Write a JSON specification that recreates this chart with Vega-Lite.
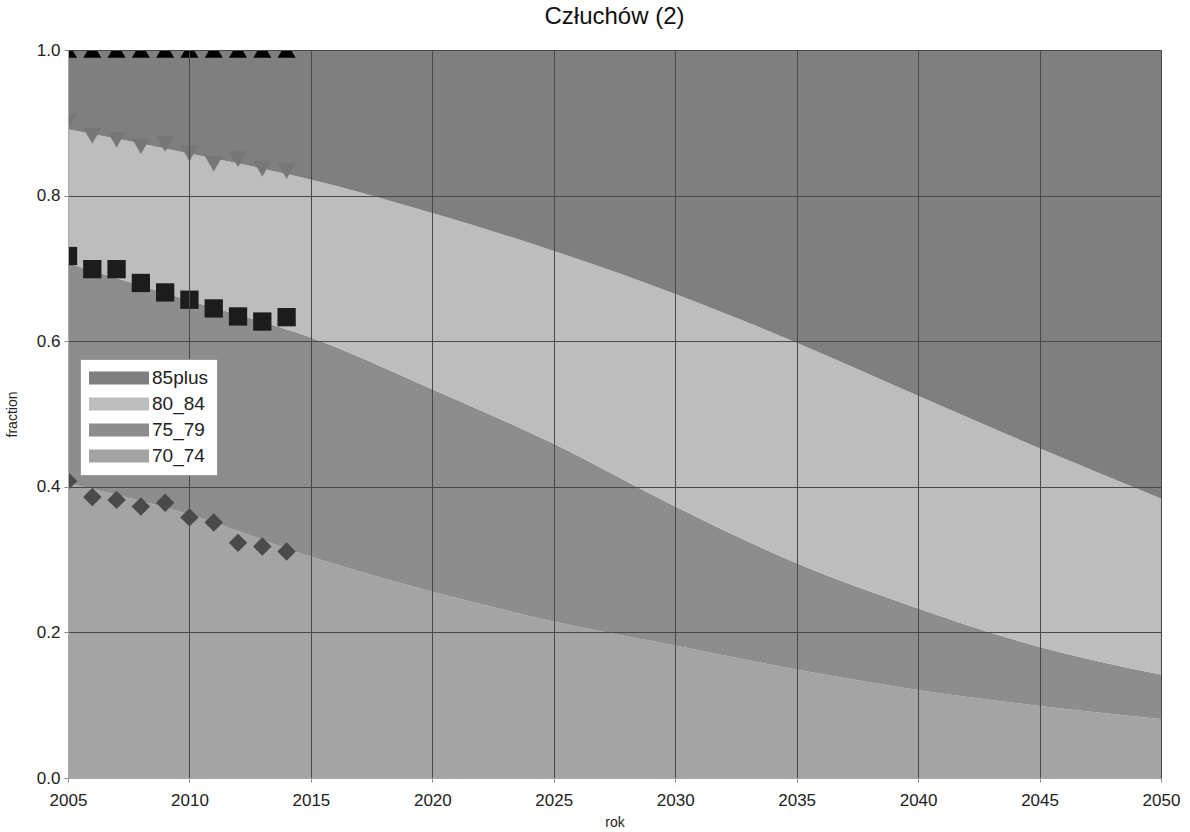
{
  "$schema": "https://vega.github.io/schema/vega-lite/v6.json",
  "width": 1093,
  "height": 728,
  "autosize": {"type": "none"},
  "padding": {"left": 68, "top": 50, "right": 29, "bottom": 54},
  "background": "white",
  "title": {"text": "Człuchów (2)", "fontSize": 24, "fontWeight": "normal", "color": "#111", "offset": 12, "anchor": "middle"},
  "config": {
    "font": "Liberation Sans",
    "view": {"stroke": null},
    "axis": {"labelFontSize": 17, "labelColor": "#222", "titleFontSize": 15, "titleFontWeight": "normal", "titleColor": "#222", "gridColor": "#484848", "gridOpacity": 1, "gridWidth": 1, "domainColor": "#aaa", "tickColor": "#888", "tickSize": 4, "labelFlush": false}
  },
  "datasets": {
    "bands": [
      {"rok": 2005, "band": "70_74", "fraction": 0.405},
      {"rok": 2005, "band": "75_79", "fraction": 0.302},
      {"rok": 2005, "band": "80_84", "fraction": 0.184},
      {"rok": 2005, "band": "85plus", "fraction": 0.109},
      {"rok": 2010, "band": "70_74", "fraction": 0.362},
      {"rok": 2010, "band": "75_79", "fraction": 0.294},
      {"rok": 2010, "band": "80_84", "fraction": 0.202},
      {"rok": 2010, "band": "85plus", "fraction": 0.142},
      {"rok": 2015, "band": "70_74", "fraction": 0.304},
      {"rok": 2015, "band": "75_79", "fraction": 0.301},
      {"rok": 2015, "band": "80_84", "fraction": 0.217},
      {"rok": 2015, "band": "85plus", "fraction": 0.178},
      {"rok": 2020, "band": "70_74", "fraction": 0.256},
      {"rok": 2020, "band": "75_79", "fraction": 0.278},
      {"rok": 2020, "band": "80_84", "fraction": 0.242},
      {"rok": 2020, "band": "85plus", "fraction": 0.224},
      {"rok": 2025, "band": "70_74", "fraction": 0.215},
      {"rok": 2025, "band": "75_79", "fraction": 0.244},
      {"rok": 2025, "band": "80_84", "fraction": 0.265},
      {"rok": 2025, "band": "85plus", "fraction": 0.276},
      {"rok": 2030, "band": "70_74", "fraction": 0.182},
      {"rok": 2030, "band": "75_79", "fraction": 0.191},
      {"rok": 2030, "band": "80_84", "fraction": 0.292},
      {"rok": 2030, "band": "85plus", "fraction": 0.335},
      {"rok": 2035, "band": "70_74", "fraction": 0.149},
      {"rok": 2035, "band": "75_79", "fraction": 0.146},
      {"rok": 2035, "band": "80_84", "fraction": 0.303},
      {"rok": 2035, "band": "85plus", "fraction": 0.402},
      {"rok": 2040, "band": "70_74", "fraction": 0.121},
      {"rok": 2040, "band": "75_79", "fraction": 0.112},
      {"rok": 2040, "band": "80_84", "fraction": 0.292},
      {"rok": 2040, "band": "85plus", "fraction": 0.475},
      {"rok": 2045, "band": "70_74", "fraction": 0.099},
      {"rok": 2045, "band": "75_79", "fraction": 0.081},
      {"rok": 2045, "band": "80_84", "fraction": 0.273},
      {"rok": 2045, "band": "85plus", "fraction": 0.547},
      {"rok": 2050, "band": "70_74", "fraction": 0.081},
      {"rok": 2050, "band": "75_79", "fraction": 0.061},
      {"rok": 2050, "band": "80_84", "fraction": 0.242},
      {"rok": 2050, "band": "85plus", "fraction": 0.616}
    ],
    "observed": [
      {"rok": 2005, "series": "70_74", "fraction": 0.408},
      {"rok": 2006, "series": "70_74", "fraction": 0.386},
      {"rok": 2007, "series": "70_74", "fraction": 0.382},
      {"rok": 2008, "series": "70_74", "fraction": 0.373},
      {"rok": 2009, "series": "70_74", "fraction": 0.378},
      {"rok": 2010, "series": "70_74", "fraction": 0.358},
      {"rok": 2011, "series": "70_74", "fraction": 0.351},
      {"rok": 2012, "series": "70_74", "fraction": 0.323},
      {"rok": 2013, "series": "70_74", "fraction": 0.318},
      {"rok": 2014, "series": "70_74", "fraction": 0.311},
      {"rok": 2005, "series": "75_79", "fraction": 0.717},
      {"rok": 2006, "series": "75_79", "fraction": 0.699},
      {"rok": 2007, "series": "75_79", "fraction": 0.699},
      {"rok": 2008, "series": "75_79", "fraction": 0.680},
      {"rok": 2009, "series": "75_79", "fraction": 0.667},
      {"rok": 2010, "series": "75_79", "fraction": 0.657},
      {"rok": 2011, "series": "75_79", "fraction": 0.645},
      {"rok": 2012, "series": "75_79", "fraction": 0.634},
      {"rok": 2013, "series": "75_79", "fraction": 0.627},
      {"rok": 2014, "series": "75_79", "fraction": 0.633},
      {"rok": 2005, "series": "80_84", "fraction": 0.902},
      {"rok": 2006, "series": "80_84", "fraction": 0.882},
      {"rok": 2007, "series": "80_84", "fraction": 0.877},
      {"rok": 2008, "series": "80_84", "fraction": 0.868},
      {"rok": 2009, "series": "80_84", "fraction": 0.871},
      {"rok": 2010, "series": "80_84", "fraction": 0.858},
      {"rok": 2011, "series": "80_84", "fraction": 0.844},
      {"rok": 2012, "series": "80_84", "fraction": 0.850},
      {"rok": 2013, "series": "80_84", "fraction": 0.837},
      {"rok": 2014, "series": "80_84", "fraction": 0.834},
      {"rok": 2005, "series": "85plus", "fraction": 1.0},
      {"rok": 2006, "series": "85plus", "fraction": 1.0},
      {"rok": 2007, "series": "85plus", "fraction": 1.0},
      {"rok": 2008, "series": "85plus", "fraction": 1.0},
      {"rok": 2009, "series": "85plus", "fraction": 1.0},
      {"rok": 2010, "series": "85plus", "fraction": 1.0},
      {"rok": 2011, "series": "85plus", "fraction": 1.0},
      {"rok": 2012, "series": "85plus", "fraction": 1.0},
      {"rok": 2013, "series": "85plus", "fraction": 1.0},
      {"rok": 2014, "series": "85plus", "fraction": 1.0}
    ]
  },
  "layer": [
    {
      "data": {"name": "bands"},
      "mark": {"type": "area", "interpolate": "monotone", "clip": true},
      "encoding": {
        "x": {"field": "rok", "type": "quantitative", "scale": {"domain": [2005, 2050], "nice": false, "zero": false},
              "axis": {"title": "rok", "zindex": 1, "values": [2005, 2010, 2015, 2020, 2025, 2030, 2035, 2040, 2045, 2050], "format": "d", "labelPadding": 10, "titleFontSize": 14, "titlePadding": 7}},
        "y": {"field": "fraction", "type": "quantitative", "stack": "zero", "scale": {"domain": [0, 1], "nice": false},
              "axis": {"title": "fraction", "zindex": 1, "values": [0, 0.2, 0.4, 0.6, 0.8, 1.0], "format": ".1f", "labelPadding": 4, "titleX": -56, "titleBaseline": "middle", "titleFontSize": 14}},
        "order": {"field": "band", "sort": "ascending"},
        "color": {"field": "band", "type": "nominal",
                  "scale": {"domain": ["85plus", "80_84", "75_79", "70_74"], "range": ["#7f7f7f", "#bdbdbd", "#8d8d8d", "#a4a4a4"]},
                  "legend": {"title": null, "orient": "none", "legendX": 12, "legendY": 309, "zindex": 2,
                             "fillColor": "white", "strokeColor": "#999", "padding": 9,
                             "symbolType": "M-1,-0.65H5V0.65H-1Z", "symbolSize": 400, "symbolStrokeWidth": 0, "symbolOpacity": 1,
                             "labelFontSize": 19, "labelColor": "#222", "labelOffset": 43, "rowPadding": 6}}
      }
    },
    {
      "data": {"name": "observed"},
      "mark": {"type": "point", "filled": true, "opacity": 1, "clip": true},
      "encoding": {
        "x": {"field": "rok", "type": "quantitative"},
        "y": {"field": "fraction", "type": "quantitative"},
        "shape": {"field": "series", "type": "nominal", "legend": null,
                  "scale": {"domain": ["70_74", "75_79", "80_84", "85plus"], "range": ["diamond", "square", "triangle-down", "triangle-up"]}},
        "fill": {"field": "series", "type": "nominal", "legend": null,
                 "scale": {"domain": ["70_74", "75_79", "80_84", "85plus"], "range": ["#4a4a4a", "#1c1c1c", "#777777", "#000000"]}},
        "size": {"field": "series", "type": "nominal", "legend": null,
                 "scale": {"domain": ["70_74", "75_79", "80_84", "85plus"], "range": [340, 324, 420, 420]}}
      }
    }
  ]
}
